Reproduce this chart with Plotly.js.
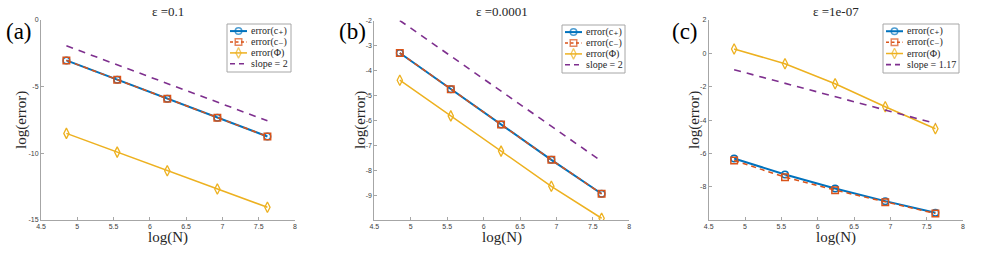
<!DOCTYPE html>
<html>
<head>
<meta charset="utf-8">
<script src="https://cdn.plot.ly/plotly-3.0.1.min.js"></script>
<style>
  html, body { margin: 0; padding: 0; background: #ffffff; }
  #chart { width: 987px; height: 279px; }
</style>
</head>
<body>
<div id="chart"></div>
<script>
// log of grid size N = 128 ... 2048
const logN = [4.85, 5.55, 6.24, 6.93, 7.62];

// (a) epsilon = 0.1
const cPlusA = [-3.06, -4.51, -5.93, -7.35, -8.75];
const cMinusA = [-3.06, -4.51, -5.93, -7.35, -8.75];
const phiA = [-8.52, -9.92, -11.31, -12.68, -14.05];
const slopeXA = [4.85, 7.62];
const slopeYA = [-1.97, -7.58];

// (b) epsilon = 0.0001
const cPlusB = [-3.30, -4.75, -6.17, -7.58, -8.94];
const cMinusB = [-3.30, -4.75, -6.17, -7.58, -8.94];
const phiB = [-4.39, -5.82, -7.23, -8.64, -9.92];
const slopeXB = [4.85, 7.62];
const slopeYB = [-2.0, -7.64];

// (c) epsilon = 1e-07
const cPlusC = [-6.30, -7.26, -8.10, -8.86, -9.56];
const cMinusC = [-6.42, -7.42, -8.20, -8.92, -9.60];
const phiC = [0.26, -0.62, -1.82, -3.20, -4.52];
const slopeXC = [4.85, 7.62];
const slopeYC = [-0.98, -4.20];

const panelTitles = ['\u03b5 =0.1', '\u03b5 =0.0001', '\u03b5 =1e-07'];
const panelTags = ['(a)', '(b)', '(c)'];
const slopeNames = ['slope = 2', 'slope = 2', 'slope = 1.17'];
const seriesNames = ['error(c\u208a)', 'error(c\u208b)', 'error(\u03a6)'];

const xTicks = [4.5, 5, 5.5, 6, 6.5, 7, 7.5, 8];
const yTicksA = [-15, -10, -5, 0];
const yTicksB = [-9, -8, -7, -6, -5, -4, -3, -2];
const yTicksC = [-8, -6, -4, -2, 0, 2];

const BLUE = '#0072BD', RED = '#D95319', YEL = '#EDB120', PUR = '#7E2F8E';
const SERIF = 'Liberation Serif, DejaVu Serif, serif';
const SANS = 'Liberation Sans, Arial, sans-serif';
const AXGRAY = '#a6a6a6';

const W = 987, H = 279;
const px = v => v / W;
const py = v => 1 - v / H;

// panel geometry in page pixels; leg = [left, top, right, bottom] of the key box
const panels = [
  {cp: cPlusA, cm: cMinusA, phi: phiA, sx: slopeXA, sy: slopeYA,
   xdom: [41, 295], ydom: [19.5, 220], yr: [-15, 0], yt: yTicksA, leg: [227, 24, 291, 72]},
  {cp: cPlusB, cm: cMinusB, phi: phiB, sx: slopeXB, sy: slopeYB,
   xdom: [374.3, 629.3], ydom: [20.5, 220], yr: [-9.99, -2], yt: yTicksB, leg: [562, 25, 625, 73]},
  {cp: cPlusC, cm: cMinusC, phi: phiC, sx: slopeXC, sy: slopeYC,
   xdom: [708.7, 963], ydom: [20, 220], yr: [-9.99, 2], yt: yTicksC, leg: [883, 24, 959, 73]}
];

const yTitleX = [21, 360, 694];
const tagX = [18.5, 352, 685];

const styles = [
  {line: {color: BLUE, width: 2},
   marker: {symbol: 'circle-open', size: 6.5, color: BLUE, line: {width: 1.5}}},
  {line: {color: RED, width: 1.5, dash: '5px,4px'},
   marker: {symbol: 'square-open', size: 6.5, color: RED, line: {width: 1.5}}},
  {line: {color: YEL, width: 1.5},
   marker: {symbol: 'diamond-tall-open', size: 7.5, color: YEL, line: {width: 1.3}}},
  {line: {color: PUR, width: 1.6, dash: '7px,6px'}}
];

const traces = [];
const layout = {
  width: W, height: H,
  margin: {l: 0, r: 0, t: 0, b: 0},
  paper_bgcolor: '#ffffff', plot_bgcolor: 'rgba(0,0,0,0)',
  showlegend: false,
  annotations: [], shapes: []
};

panels.forEach((p, i) => {
  const k = i === 0 ? '' : String(i + 1);
  const xa = 'x' + k, ya = 'y' + k;

  const series = [p.cp, p.cm, p.phi];
  series.forEach((ys, s) => {
    traces.push({
      x: logN, y: ys, xaxis: xa, yaxis: ya,
      name: seriesNames[s], mode: 'lines+markers',
      line: styles[s].line, marker: styles[s].marker
    });
  });
  traces.push({
    x: p.sx, y: p.sy, xaxis: xa, yaxis: ya,
    name: slopeNames[i], mode: 'lines', line: styles[3].line
  });

  const axCommon = {
    showline: true, linecolor: AXGRAY, linewidth: 1,
    ticks: 'inside', ticklen: 3, tickcolor: AXGRAY,
    showgrid: false, zeroline: false, mirror: false,
    tickfont: {family: SANS, size: 7, color: '#404040'}
  };
  layout['xaxis' + k] = Object.assign({}, axCommon, {
    domain: [px(p.xdom[0]), px(p.xdom[1])],
    range: [4.5, 8], tickvals: xTicks, ticktext: xTicks.map(String),
    anchor: ya
  });
  layout['yaxis' + k] = Object.assign({}, axCommon, {
    domain: [py(p.ydom[1]), py(p.ydom[0])],
    range: p.yr, tickvals: p.yt, ticktext: p.yt.map(String),
    anchor: xa
  });

  // compact key: its own hidden axes spanning the key box, 4 rows
  const kx = 'x' + (4 + i), ky = 'y' + (4 + i);
  const [L, T, R, B] = p.leg;
  layout['xaxis' + (4 + i)] = {
    domain: [px(L), px(R)], range: [0, R - L], visible: false,
    fixedrange: true, anchor: ky
  };
  layout['yaxis' + (4 + i)] = {
    domain: [py(B), py(T)], range: [4.4, 0], visible: false,
    fixedrange: true, anchor: kx
  };
  layout.shapes.push({
    type: 'rect', xref: 'paper', yref: 'paper',
    x0: px(L), x1: px(R), y0: py(B), y1: py(T),
    line: {color: AXGRAY, width: 1}, fillcolor: 'rgba(0,0,0,0)', layer: 'above'
  });
  const names = seriesNames.concat([slopeNames[i]]);
  names.forEach((nm, s) => {
    const row = 0.65 + s;
    const st = styles[s];
    const t = {
      x: [3, 11.5, 20], y: [row, row, row], xaxis: kx, yaxis: ky,
      mode: st.marker ? 'lines+markers' : 'lines',
      line: Object.assign({}, st.line, s === 1 ? {dash: '3px,2.5px'} : (s === 3 ? {dash: '5px,4px'} : {})),
      hoverinfo: 'skip', cliponaxis: false
    };
    if (st.marker) t.marker = Object.assign({}, st.marker, {size: [0, st.marker.size, 0]});
    traces.push(t);
    layout.annotations.push({
      text: nm, xref: kx, yref: ky, x: 22, y: row,
      xanchor: 'left', yanchor: 'middle', showarrow: false,
      font: {family: SERIF, size: 10, color: '#262626'}
    });
  });

  const cx = px((p.xdom[0] + p.xdom[1]) / 2);
  layout.annotations.push({
    text: panelTitles[i], xref: 'paper', yref: 'paper',
    x: cx, y: py(11), xanchor: 'center', yanchor: 'middle', showarrow: false,
    font: {family: SERIF, size: 13, color: '#262626'}
  });
  layout.annotations.push({
    text: 'log(N)', xref: 'paper', yref: 'paper',
    x: cx, y: py(237), xanchor: 'center', yanchor: 'middle', showarrow: false,
    font: {family: SERIF, size: 15, color: '#262626'}
  });
  layout.annotations.push({
    text: 'log(error)', xref: 'paper', yref: 'paper', textangle: -90,
    x: px(yTitleX[i]), y: py(120), xanchor: 'center', yanchor: 'middle', showarrow: false,
    font: {family: SERIF, size: 15, color: '#262626'}
  });
  layout.annotations.push({
    text: panelTags[i], xref: 'paper', yref: 'paper',
    x: px(tagX[i]), y: py(31), xanchor: 'center', yanchor: 'middle', showarrow: false,
    font: {family: SERIF, size: 23, color: '#000000'}
  });
});

Plotly.newPlot('chart', traces, layout, {staticPlot: true, displayModeBar: false});
</script>
</body>
</html>
